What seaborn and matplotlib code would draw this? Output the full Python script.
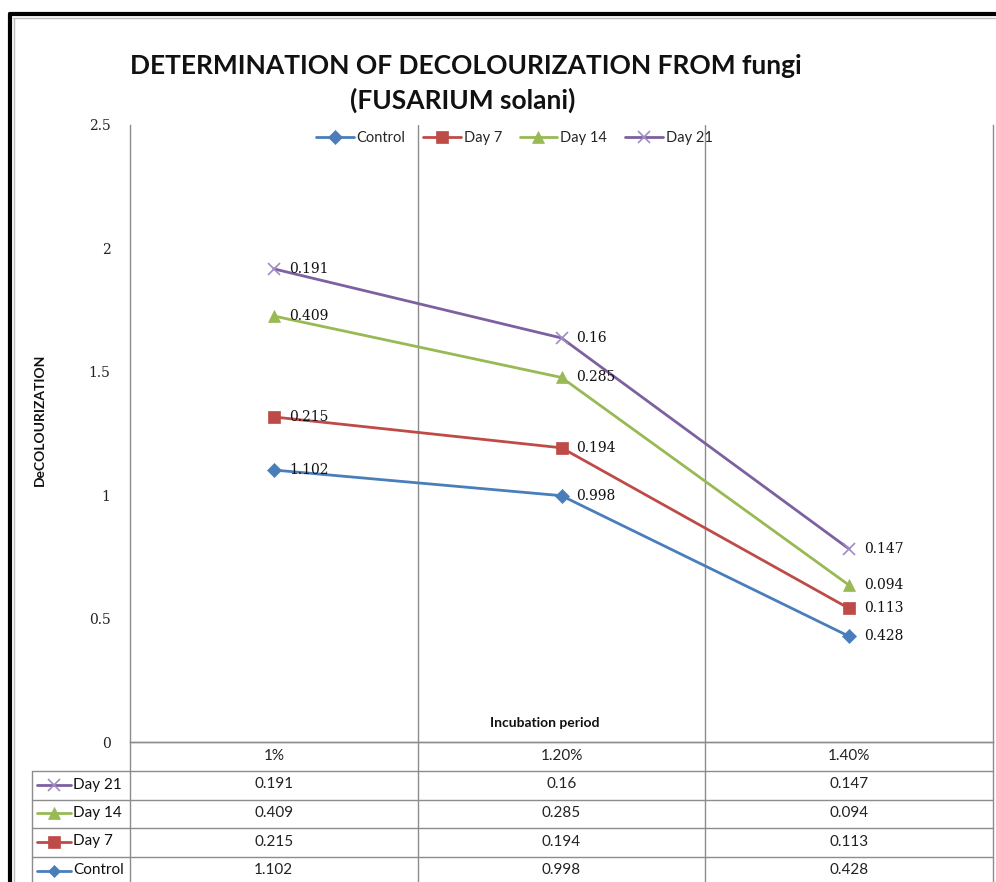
import numpy as np
import pandas as pd
import matplotlib
matplotlib.use("Agg")
import matplotlib.pyplot as plt
from matplotlib.lines import Line2D
import seaborn as sns

# ---------------- data ----------------
categories = ["1%", "1.20%", "1.40%"]
series_names = ["Control", "Day 7", "Day 14", "Day 21"]
control = [1.102, 0.998, 0.428]
day7 = [0.215, 0.194, 0.113]
day14 = [0.409, 0.285, 0.094]
day21 = [0.191, 0.16, 0.147]
y_ticks = [0, 0.5, 1, 1.5, 2, 2.5]
y_tick_labels = ["0", "0.5", "1", "1.5", "2", "2.5"]

colors = {"Control": "#4A7EBB", "Day 7": "#BE4B48", "Day 14": "#98B954", "Day 21": "#7D60A0"}
marker_colors = {"Control": "#4A7EBB", "Day 7": "#BE4B48", "Day 14": "#98B954", "Day 21": "#A08CC4"}
markers = {"Control": "D", "Day 7": "s", "Day 14": "^", "Day 21": "x"}
msizes = {"Control": 7, "Day 7": 9, "Day 14": 9, "Day 21": 9}

values = {"Control": control, "Day 7": day7, "Day 14": day14, "Day 21": day21}

# stacked line chart (Excel "stacked line"): cumulative sums
cum = {}
running = np.zeros(len(categories))
for name in series_names:
    running = running + np.array(values[name])
    cum[name] = running.copy()

rows = []
for name in series_names:
    for c, v, s in zip(categories, values[name], cum[name]):
        rows.append({"cat": c, "series": name, "value": v, "stacked": s})
df = pd.DataFrame(rows)

sns.set_theme(style="white")
plt.rcParams["font.family"] = ["Lato", "DejaVu Sans"]

W, H = 996, 882
fig = plt.figure(figsize=(W / 100, H / 100), dpi=100)
fig.patch.set_facecolor("white")

# plot area in pixel coordinates
L, R, T, B = 130, 993, 125, 742
ax = fig.add_axes([L / W, 1 - B / H, (R - L) / W, (B - T) / H])

for name in series_names:
    sub = df[df.series == name]
    sns.lineplot(data=sub, x="cat", y="stacked", ax=ax, color=colors[name],
                 marker=markers[name], markersize=msizes[name],
                 markerfacecolor=marker_colors[name], markeredgecolor=marker_colors[name],
                 markeredgewidth=1.2 if name == "Day 21" else 0.5,
                 linewidth=2.0, label=name, sort=False, zorder=3)
    for i, (c, v, s) in enumerate(zip(sub["cat"], sub["value"], sub["stacked"])):
        ax.annotate(f"{v:g}", xy=(i, s), xytext=(15, 0), textcoords="offset pixels",
                    ha="left", va="center", fontsize=10, family="DejaVu Serif",
                    color="#111111", zorder=4)

ax.set_xlim(-0.5, len(categories) - 0.5)
ax.set_ylim(0, 2.5)
ax.set_yticks(y_ticks)
ax.set_yticklabels(y_tick_labels, family="DejaVu Serif", fontsize=10, color="#222222")
ax.tick_params(axis="y", length=0, pad=14)
ax.set_xticks([])
ax.set_xlabel("")
ax.set_ylabel("")
for xb in np.arange(0.5, len(categories) - 0.5, 1.0):
    ax.axvline(xb, color="#8C8C8C", lw=1.0, zorder=1)
for sp in ["left", "bottom", "right"]:
    ax.spines[sp].set_color("#8C8C8C")
    ax.spines[sp].set_linewidth(1.0)
ax.spines["top"].set_visible(False)

leg = ax.legend(loc="upper center", bbox_to_anchor=((514 - L) / (R - L), 1.005), ncol=4,
                frameon=False, fontsize=10.5, handlelength=2.6, columnspacing=1.2,
                handletextpad=0.2, borderaxespad=0.2)

# overlay axes in pixel coordinates for title, labels, data table and frame
ov = fig.add_axes([0, 0, 1, 1], zorder=5)
ov.set_xlim(0, W)
ov.set_ylim(H, 0)
ov.axis("off")
ov.patch.set_alpha(0)

ov.text(466, 66, "DETERMINATION OF DECOLOURIZATION FROM fungi", ha="center", va="center",
        fontsize=19, fontweight="bold", color="#111111")
ov.text(463, 100, "(FUSARIUM solani)", ha="center", va="center",
        fontsize=19, fontweight="bold", color="#111111")
ov.text(40, 420, "DeCOLOURIZATION", rotation=90, ha="center", va="center",
        fontsize=10, fontweight="bold", color="#111111")
ov.text(545, 723, "Incubation period", ha="center", va="center",
        fontsize=10, fontweight="bold", color="#111111")

# data table
gc = "#8C8C8C"
col_centers = [L + (R - L) * (i + 0.5) / len(categories) for i in range(len(categories))]
col_bounds = [L + (R - L) * i / len(categories) for i in range(len(categories) + 1)]
row_tops = [771, 800, 828, 857, 886]
TL = 32
ov.plot([L, R], [742, 742], color=gc, lw=1.0)
for xb in col_bounds:
    ov.plot([xb, xb], [742, H], color=gc, lw=1.0)
ov.plot([TL, TL], [771, H], color=gc, lw=1.0)
for yb in row_tops[:-1]:
    ov.plot([TL, R], [yb, yb], color=gc, lw=1.0)
for cx, c in zip(col_centers, categories):
    ov.text(cx, 756, c, ha="center", va="center", fontsize=11, color="#222222")
table_order = ["Day 21", "Day 14", "Day 7", "Control"]
for r, name in enumerate(table_order):
    yc = (row_tops[r] + row_tops[r + 1]) / 2 - 1
    ov.add_line(Line2D([37, 71], [yc, yc], color=colors[name], lw=2.0))
    ov.add_line(Line2D([54], [yc], color=marker_colors[name], marker=markers[name],
                       markersize=msizes[name] - 1, markeredgewidth=1.2 if name == "Day 21" else 0.5,
                       markerfacecolor=marker_colors[name], markeredgecolor=marker_colors[name]))
    ov.text(73, yc, name, ha="left", va="center", fontsize=11, color="#111111")
    for cx, v in zip(col_centers, values[name]):
        ov.text(cx, yc, f"{v:g}", ha="center", va="center", fontsize=11, color="#222222")

# outer frame
ov.plot([10, W], [14, 14], color="black", lw=3)
ov.plot([10, 10], [14, H], color="black", lw=3)
ov.plot([13, W], [18, 18], color="#BBBBBB", lw=1)
ov.plot([14, 14], [18, H], color="#BBBBBB", lw=1)

fig.savefig("out.png", dpi=100, facecolor="white")
